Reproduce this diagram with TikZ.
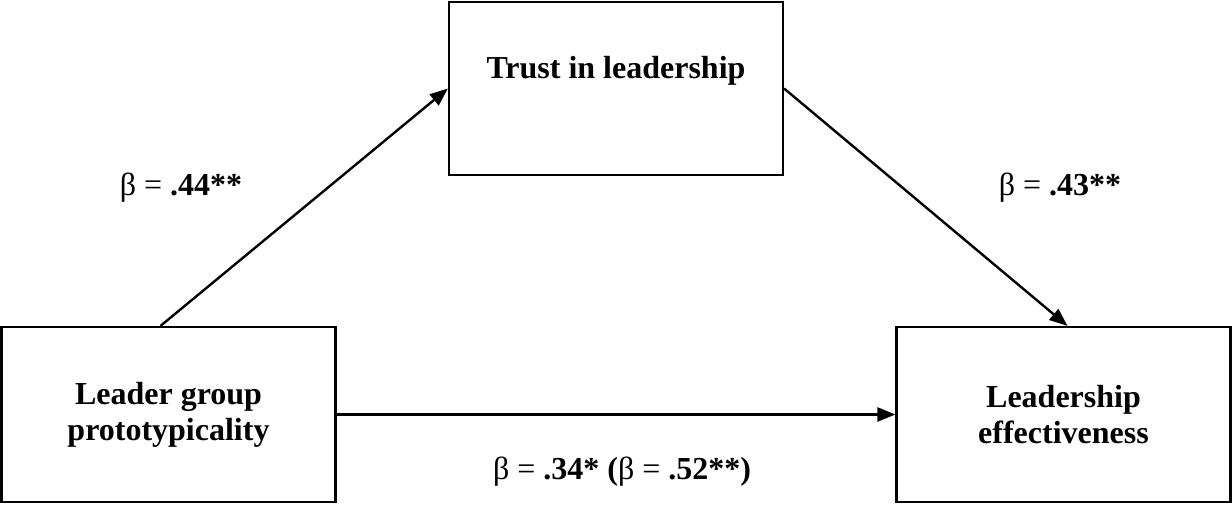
\documentclass[tikz,border=0pt]{standalone}
\usepackage{fontspec}
\setmainfont{Liberation Serif}
\usetikzlibrary{arrows.meta}
\begin{document}
\begin{tikzpicture}[x=0.5pt,y=-0.5pt,
  box/.style={draw,line width=1.1pt,minimum width=167pt,minimum height=87.5pt,inner sep=0pt,align=center,font=\fontsize{16}{18}\selectfont\bfseries},
  conn/.style={line width=1.2pt,-{Triangle[length=9pt,width=7pt]}},
  lbl/.style={font=\fontsize{16}{18}\selectfont}]
\useasboundingbox (0,0) rectangle (1232,504);
\node[box] (lb) at (168.5,414.5) {Leader group\\prototypicality};
\node[box,minimum height=86.5pt,text height=12pt,text depth=22.5pt] (tb) at (616,88.5) {Trust in leadership};
\node[box] (rb) at (1063.5,414.5) {Leadership\\effectiveness};
\draw[conn] ([xshift=-4pt]lb.north) -- (tb.west);
\draw[conn] (tb.east) -- ([xshift=2pt]rb.north);
\draw[conn] (lb.east) -- (rb.west);
\node[lbl] (l1) at (181,188) {β = \textbf{.44**}};
\node[lbl] (l2) at (1060,188) {β = \textbf{.43**}};
\node[lbl] (l3) at (622,472) {β = \textbf{.34* (}β = \textbf{.52**)}};
\end{tikzpicture}
\end{document}
